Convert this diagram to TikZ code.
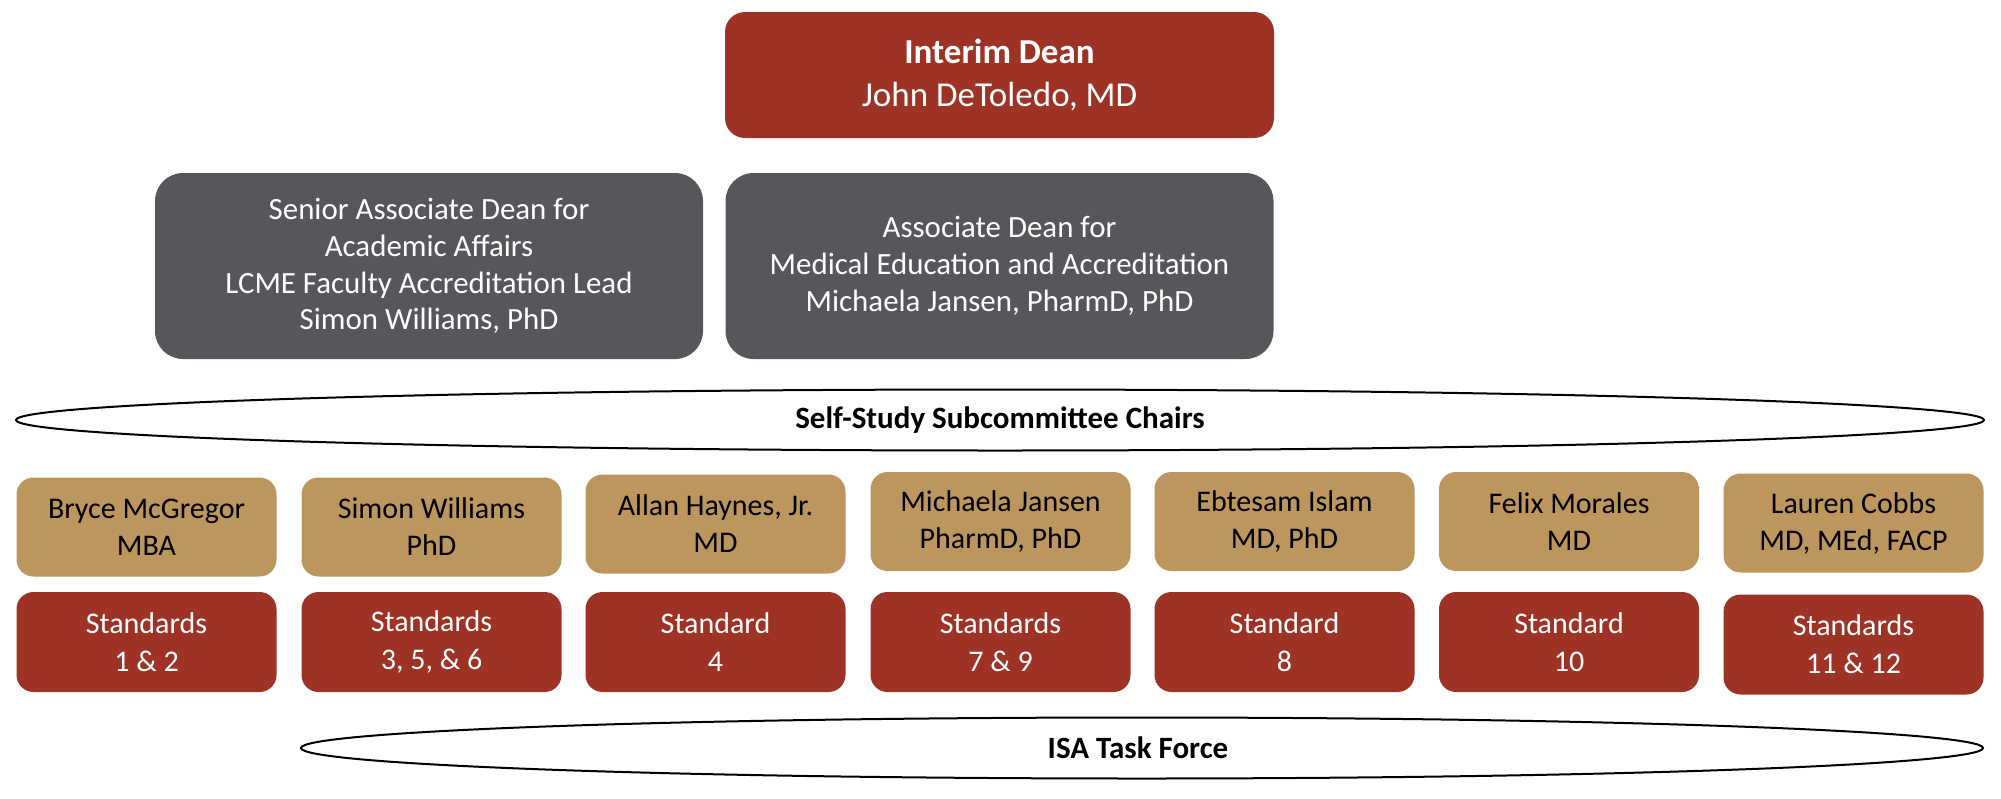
\documentclass[tikz,border=0pt]{standalone}
\usepackage{fontspec}
\setmainfont{Carlito}
\usetikzlibrary{shapes.geometric}
\definecolor{deanred}{RGB}{158,50,36}
\definecolor{deangray}{RGB}{86,87,91}
\definecolor{deangold}{RGB}{189,150,94}
\tikzset{
  x=1pt, y=-1pt,
  topbox/.style={fill=deanred, text=white, rounded corners=20pt, minimum width=549pt, minimum height=126pt, inner sep=0pt, align=center, font=\fontsize{35}{43}\selectfont},
  graybox/.style={fill=deangray, text=white, rounded corners=28pt, minimum width=548pt, minimum height=186pt, inner sep=0pt, align=center, font=\fontsize{30.9}{36.7}\selectfont},
  chairbox/.style={fill=deangold, text=black, rounded corners=17pt, minimum width=260pt, minimum height=99pt, inner sep=0pt, align=center, font=\fontsize{30}{37}\selectfont},
  stdbox/.style={fill=deanred, text=white, rounded corners=17pt, minimum width=260pt, minimum height=100pt, inner sep=0pt, align=center, font=\fontsize{30}{38}\selectfont},
  band/.style={ellipse, draw=black, line width=2pt, fill=white, inner sep=0pt, font=\bfseries\fontsize{31}{34}\selectfont}
}
\begin{document}
\begin{tikzpicture}
\useasboundingbox (0,0) rectangle (2001,798);
\node[topbox] (dean) at (999.5,75) {\textbf{Interim Dean}\\John DeToledo, MD};
\node[graybox] (senior) at (429,266) {Senior Associate Dean for\\Academic Affairs\\LCME Faculty Accreditation Lead\\Simon Williams, PhD};
\node[graybox] (assoc) at (999.5,266) {Associate Dean for\\Medical Education and Accreditation\\Michaela Jansen, PharmD, PhD};
\node[band, minimum width=1968pt, minimum height=61pt] (chairs) at (1000,420) {Self-Study Subcommittee Chairs};
\node[chairbox] (c1) at (146.5,527) {Bryce McGregor\\MBA};
\node[chairbox] (c2) at (431.5,527) {Simon Williams\\PhD};
\node[chairbox] (c3) at (715.5,524) {Allan Haynes, Jr.\\MD};
\node[chairbox] (c4) at (1000.5,521.5) {Michaela Jansen\\PharmD, PhD};
\node[chairbox] (c5) at (1284.5,521.5) {Ebtesam Islam\\MD, PhD};
\node[chairbox] (c6) at (1569,521.5) {Felix Morales\\MD};
\node[chairbox] (c7) at (1853.5,523) {Lauren Cobbs\\MD, MEd, FACP};
\node[stdbox] (s1) at (146.5,642) {Standards\\1 \& 2};
\node[stdbox] (s2) at (431.5,642) {Standards\\3, 5, \& 6};
\node[stdbox] (s3) at (715.5,642) {Standard\\4};
\node[stdbox] (s4) at (1000.5,642) {Standards\\7 \& 9};
\node[stdbox] (s5) at (1284.5,642) {Standard\\8};
\node[stdbox] (s6) at (1569,642) {Standard\\10};
\node[stdbox] (s7) at (1853.5,644.5) {Standards\\11 \& 12};
\node[band, minimum width=1682pt, minimum height=61pt] (isa) at (1142,748) {\hspace*{-8pt}ISA Task Force};
\end{tikzpicture}
\end{document}
